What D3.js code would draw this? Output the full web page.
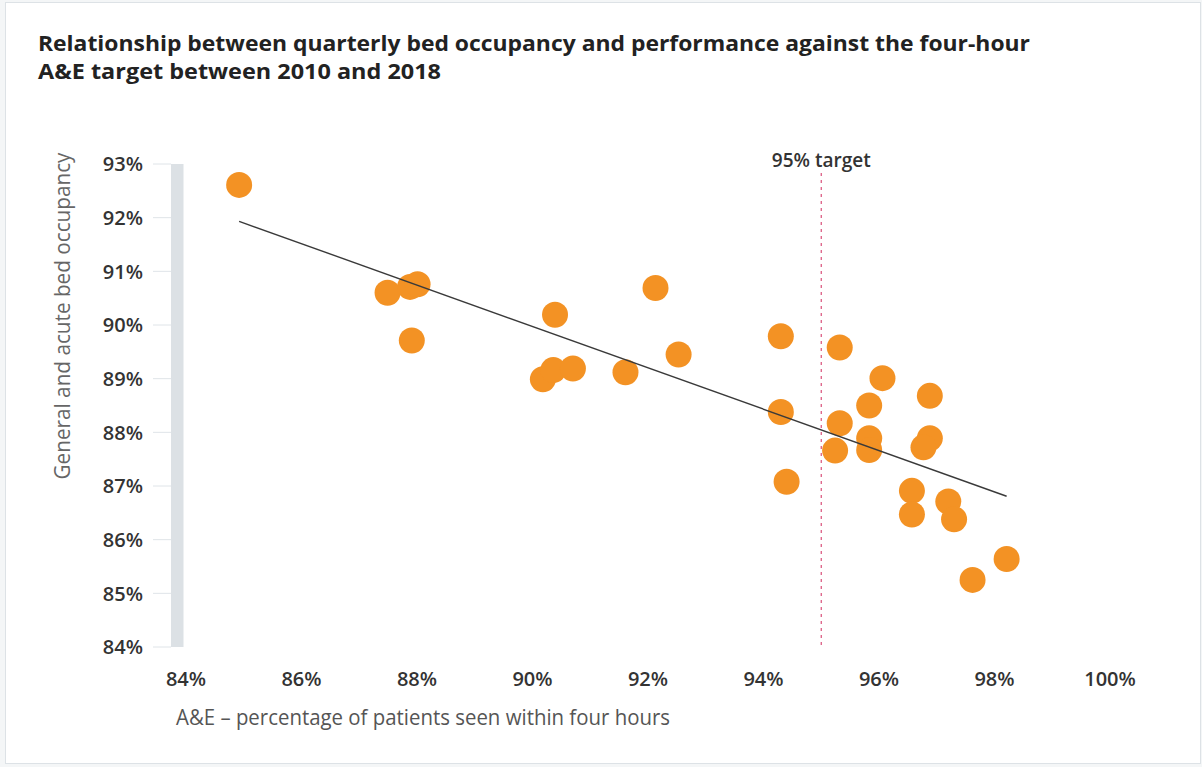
<!DOCTYPE html>
<html>
<head>
<meta charset="utf-8">
<script src="https://cdn.jsdelivr.net/npm/d3@7"></script>
<style>
  body { margin: 0; background: #f4f6f7; }
  svg { display: block; font-family: "Open Sans", "Noto Sans", sans-serif; }
</style>
</head>
<body>
<svg id="chart"></svg>
<script>
// one point per quarter, 2010-2018
const aeSeen = [84.92, 87.49, 87.88, 88.01, 87.91, 90.18, 90.36, 90.70, 90.39, 91.61,
  92.13, 92.53, 94.30, 94.30, 94.40, 95.32, 95.32, 95.24, 95.83, 95.83, 95.83, 96.06,
  96.88, 96.88, 96.77, 96.57, 96.57, 97.20, 97.30, 97.62, 98.21];
const bedOccupancy = [92.61, 90.60, 90.71, 90.76, 89.71, 88.99, 89.16, 89.19, 90.19, 89.12,
  90.69, 89.45, 89.79, 88.38, 87.08, 89.58, 88.17, 87.66, 88.50, 87.89, 87.67, 89.01,
  88.68, 87.89, 87.72, 86.91, 86.47, 86.71, 86.38, 85.25, 85.64];

const xTicks = [84, 86, 88, 90, 92, 94, 96, 98, 100];
const yTicks = [84, 85, 86, 87, 88, 89, 90, 91, 92, 93];
const targetValue = 95;

const titleLines = [
  "Relationship between quarterly bed occupancy and performance against the four-hour",
  "A&E target between 2010 and 2018"
];
const xTitle = "A&E \u2013 percentage of patients seen within four hours";
const yTitle = "General and acute bed occupancy";
const targetLabel = "95% target";

const width = 1202, height = 767;

const svg = d3.select("#chart")
  .attr("width", width)
  .attr("height", height);

// card frame
svg.append("rect")
  .attr("x", 5.5).attr("y", 2.5)
  .attr("width", 1195).attr("height", 761)
  .attr("fill", "#ffffff")
  .attr("stroke", "#dde2e6");

// title, one text with a line per tspan (source font is condensed, so fit widths)
const titleWidths = [992, 403];
svg.append("text")
  .attr("class", "title")
  .style("font-size", "20.5px")
  .style("font-weight", 700)
  .style("fill", "#222")
  .selectAll("tspan")
  .data(titleLines)
  .join("tspan")
  .attr("x", 38)
  .attr("y", (d, i) => 51 + i * 28)
  .attr("textLength", (d, i) => titleWidths[i])
  .attr("lengthAdjust", "spacingAndGlyphs")
  .text(d => d);

const x = d3.scaleLinear().domain([84, 100]).range([186, 1110]);
const y = d3.scaleLinear().domain([84, 93]).range([647, 164]);

// y axis: grey bar, short tick lines and bold labels
svg.append("rect")
  .attr("x", 171)
  .attr("y", y(93))
  .attr("width", 12.5)
  .attr("height", y(84) - y(93))
  .attr("fill", "#dce1e5");

const yAxis = svg.append("g");
yAxis.selectAll("line")
  .data(yTicks)
  .join("line")
  .attr("x1", 153).attr("x2", 171)
  .attr("y1", d => y(d)).attr("y2", d => y(d))
  .attr("stroke", "#dfe4e8")
  .attr("stroke-width", 1);
yAxis.selectAll("text")
  .data(yTicks)
  .join("text")
  .attr("x", 143)
  .attr("y", d => y(d))
  .attr("dy", "0.36em")
  .attr("text-anchor", "end")
  .style("font-size", "20px")
  .style("font-weight", 600)
  .style("fill", "#333")
  .text(d => d + "%");

svg.append("text")
  .attr("transform", "translate(70,316) rotate(-90)")
  .attr("text-anchor", "middle")
  .attr("textLength", 327)
  .attr("lengthAdjust", "spacingAndGlyphs")
  .style("font-size", "22px")
  .style("fill", "#666")
  .text(yTitle);

// x axis labels only
svg.append("g").selectAll("text")
  .data(xTicks)
  .join("text")
  .attr("x", d => x(d))
  .attr("y", 686)
  .attr("text-anchor", "middle")
  .style("font-size", "20px")
  .style("font-weight", 600)
  .style("fill", "#333")
  .text(d => d + "%");

svg.append("text")
  .attr("x", 176)
  .attr("y", 725)
  .attr("textLength", 494)
  .attr("lengthAdjust", "spacingAndGlyphs")
  .style("font-size", "22px")
  .style("fill", "#555")
  .text(xTitle);

// 95% target marker
svg.append("line")
  .attr("x1", x(targetValue)).attr("x2", x(targetValue))
  .attr("y1", 173).attr("y2", y(84))
  .attr("stroke", "#d9507a")
  .attr("stroke-width", 1.2)
  .attr("stroke-dasharray", "3,4");

svg.append("text")
  .attr("x", x(targetValue))
  .attr("y", 167)
  .attr("text-anchor", "middle")
  .attr("textLength", 99)
  .attr("lengthAdjust", "spacingAndGlyphs")
  .style("font-size", "19px")
  .style("font-weight", 600)
  .style("fill", "#333")
  .text(targetLabel);

// points
const points = aeSeen.map((v, i) => ({ x: v, y: bedOccupancy[i] }));

svg.append("g").selectAll("circle")
  .data(points)
  .join("circle")
  .attr("cx", d => x(d.x))
  .attr("cy", d => y(d.y))
  .attr("r", 13)
  .attr("fill", "#f39224");

// least squares trend line, drawn across the data range
const mx = d3.mean(points, d => d.x);
const my = d3.mean(points, d => d.y);
const slope = d3.sum(points, d => (d.x - mx) * (d.y - my)) / d3.sum(points, d => (d.x - mx) ** 2);
const [xMin, xMax] = d3.extent(points, d => d.x);
const trend = [xMin, xMax].map(v => ({ x: v, y: my + slope * (v - mx) }));

svg.append("path")
  .datum(trend)
  .attr("d", d3.line().x(d => x(d.x)).y(d => y(d.y)))
  .attr("fill", "none")
  .attr("stroke", "#3a3a3a")
  .attr("stroke-width", 1.4);
</script>
</body>
</html>
